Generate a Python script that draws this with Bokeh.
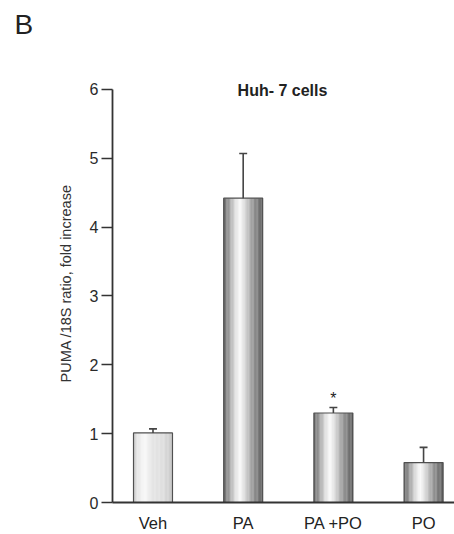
from bokeh.plotting import figure
from bokeh.models import Range1d, FixedTicker, Label, ColumnDataSource, Title
from bokeh.embed import file_html
from bokeh.resources import INLINE
from bokeh.core.properties import value

# ---- data ----
categories = ["Veh", "PA", "PA +PO", "PO"]
means = [1.01, 4.42, 1.30, 0.58]
errors = [0.06, 0.65, 0.08, 0.22]
marks = ["", "", "*", ""]
y_ticks = [0, 1, 2, 3, 4, 5, 6]
title_text = "Huh- 7 cells"
panel_letter = "B"
y_title = "PUMA /18S ratio, fold increase"

FONT = "Liberation Sans"
W, H = 454, 534
TOP = 45
BAR_W = 0.432
CAP_HALF = 0.044

p = figure(width=W, height=H, output_backend="svg", toolbar_location=None,
           x_range=Range1d(-0.449, 3.343), y_range=Range1d(0, 6 * (503 - TOP) / 414),
           min_border_left=112, min_border_right=0, min_border_top=TOP,
           min_border_bottom=31)
p.outline_line_color = None
p.grid.visible = False
p.background_fill_color = "white"
p.border_fill_color = "white"

# gradient profiles (position across bar -> grey level)
metal = [(0.0, 100), (0.12, 150), (0.30, 225), (0.42, 250), (0.55, 215), (0.75, 150), (1.0, 92)]
light = [(0.0, 205), (0.12, 232), (0.30, 248), (0.45, 230), (0.75, 222), (1.0, 200)]


def grey_at(profile, t):
    for (t0, g0), (t1, g1) in zip(profile, profile[1:]):
        if t0 <= t <= t1:
            g = int(round(g0 + (g1 - g0) * (t - t0) / (t1 - t0)))
            return "#%02x%02x%02x" % (g, g, g)
    g = profile[-1][1]
    return "#%02x%02x%02x" % (g, g, g)


N = 30
xs = list(range(len(categories)))
sl, sr, st, sc = [], [], [], []
for i, m in enumerate(means):
    prof = light if i == 0 else metal
    left = xs[i] - BAR_W / 2
    for k in range(N):
        sl.append(left + BAR_W * k / N)
        sr.append(left + BAR_W * (k + 1) / N + 0.002)
        st.append(m)
        sc.append(grey_at(prof, (k + 0.5) / N))
p.quad(left=sl, right=sr, bottom=0, top=st, fill_color=sc, line_color=None)

bars = ColumnDataSource(dict(
    x=xs, top=means,
    left=[x - BAR_W / 2 for x in xs], right=[x + BAR_W / 2 for x in xs],
    etop=[m + e for m, e in zip(means, errors)],
    c0=[x - CAP_HALF for x in xs], c1=[x + CAP_HALF for x in xs],
    mark=marks,
))
p.quad(left="left", right="right", bottom=0, top="top", source=bars,
       fill_color=None, line_color="#505050", line_width=1.2)
p.segment(x0="x", y0="top", x1="x", y1="etop", source=bars,
          line_color="#454545", line_width=1.6)
p.segment(x0="c0", y0="etop", x1="c1", y1="etop", source=bars,
          line_color="#454545", line_width=1.6)
p.text(x="x", y="etop", text="mark", source=bars, text_align="center",
       text_baseline="alphabetic", text_font=value(FONT), text_font_size="16px",
       text_color="#222222", y_offset=-9)

# axes
ya = p.yaxis[0]
ya.bounds = (0, 6)
ya.ticker = FixedTicker(ticks=y_ticks)
ya.minor_tick_line_color = None
ya.major_tick_in = 0
ya.major_tick_out = 11
ya.major_tick_line_width = 1.6
ya.major_tick_line_color = "#333333"
ya.axis_line_width = 1.8
ya.axis_line_color = "#333333"
ya.major_label_text_font = FONT
ya.major_label_text_font_size = "16px"
ya.major_label_text_color = "#2a2a2a"
ya.major_label_standoff = 3

xa = p.xaxis[0]
xa.ticker = FixedTicker(ticks=xs)
xa.major_label_overrides = {i: c for i, c in enumerate(categories)}
xa.minor_tick_line_color = None
xa.major_tick_line_color = None
xa.major_tick_out = 0
xa.major_tick_in = 0
xa.axis_line_width = 1.8
xa.axis_line_color = "#333333"
xa.major_label_text_font = FONT
xa.major_label_text_font_size = "16.5px"
xa.major_label_text_color = "#222222"
xa.major_label_standoff = 11

# chart title inside the plot area
p.add_layout(Label(x=1.436, y=6, y_offset=-1, text=title_text, text_font=FONT,
                   text_font_size="16px", text_font_style="bold",
                   text_align="center", text_baseline="alphabetic",
                   text_color="#222222"))

# y-axis title as a side title
p.add_layout(Title(text=y_title, align="left", offset=120, standoff=25,
                   text_font=FONT, text_font_size="14.5px",
                   text_font_style="normal", text_color="#333333"), "left")

# panel letter
p.add_layout(Title(text=panel_letter, align="left", offset=-98, standoff=11,
                   text_font=FONT, text_font_size="28px",
                   text_font_style="normal", text_color="#222222"), "above")

open("out.html", "w").write(file_html(p, INLINE))
